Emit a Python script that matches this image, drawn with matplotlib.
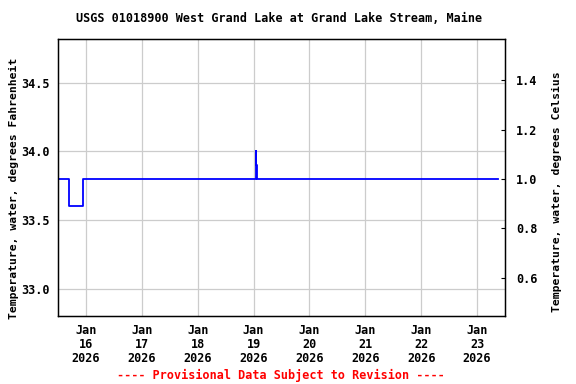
import matplotlib
matplotlib.use('Agg')
import matplotlib.pyplot as plt
import pandas as pd

# data (step series, deg F)
times = pd.to_datetime([
    '2026-01-15 12:00', '2026-01-15 16:45', '2026-01-15 22:45',
    '2026-01-19 00:50', '2026-01-19 01:05', '2026-01-19 01:20',
    '2026-01-23 09:00',
])
temp_f = [33.8, 33.6, 33.8, 34.0, 33.9, 33.8, 33.8]

f_ticks = [33.0, 33.5, 34.0, 34.5]
c_ticks = [0.6, 0.8, 1.0, 1.2, 1.4]
day_ticks = pd.date_range('2026-01-16', '2026-01-23', freq='D')

plt.rcParams['font.family'] = 'DejaVu Sans Mono'
plt.rcParams['font.weight'] = 'bold'
plt.rcParams['axes.labelweight'] = 'bold'

fig = plt.figure(figsize=(5.76, 3.84), dpi=100)
ax = fig.add_axes([58 / 576, 1 - 316 / 384, 447 / 576, 277 / 384])

ax.plot(times, temp_f, drawstyle='steps-post', color='#0000ff', lw=1.3)

ax.set_xlim(pd.Timestamp('2026-01-15 12:00'), pd.Timestamp('2026-01-23 12:00'))
ax.set_ylim(32.80, 34.82)
ax.set_yticks(f_ticks)
ax.set_yticklabels([f'{v:.1f}' for v in f_ticks], fontsize=8.5)
ax.set_xticks(day_ticks)
ax.set_xticklabels([d.strftime('%b\n%d\n%Y') for d in day_ticks], fontsize=8.5,
                   linespacing=1.1)
ax.grid(True, color='#cccccc', lw=0.9)
ax.tick_params(axis='y', length=0, pad=6)
ax.tick_params(axis='x', length=0, pad=6)
ax.set_ylabel('Temperature, water, degrees Fahrenheit', fontsize=8.2)
ax.yaxis.set_label_coords(-0.087, 0.46)
for s in ax.spines.values():
    s.set_linewidth(1.0)

# Celsius axis on the right
ax2 = ax.twinx()
lo, hi = ax.get_ylim()
ax2.set_ylim((lo - 32) / 1.8, (hi - 32) / 1.8)
ax2.set_yticks(c_ticks)
ax2.set_yticklabels([f'{v:.1f}' for v in c_ticks], fontsize=8.5)
ax2.tick_params(axis='y', direction='in', length=3, pad=8)
ax2.set_ylabel('Temperature, water, degrees Celsius', fontsize=8.2)
ax2.yaxis.set_label_coords(1.105, 0.45)

fig.text(279 / 576, 1 - 19 / 384, 'USGS 01018900 West Grand Lake at Grand Lake Stream, Maine',
         ha='center', va='center', fontsize=8.5)
fig.text(281 / 576, 1 - 375 / 384, '---- Provisional Data Subject to Revision ----',
         ha='center', va='center', fontsize=8.5, color='red')

fig.savefig('out.png', dpi=100)
